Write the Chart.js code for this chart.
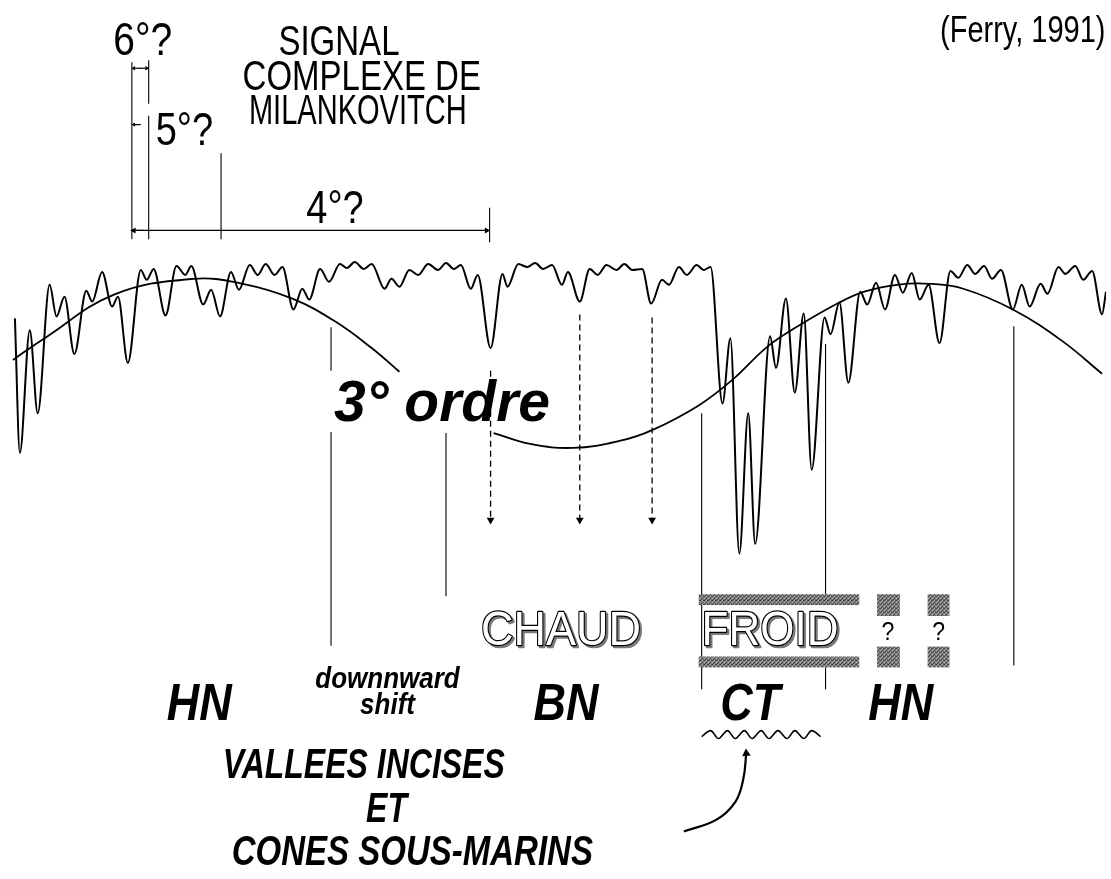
<!DOCTYPE html>
<html>
<head>
<meta charset="utf-8">
<script src="https://cdn.jsdelivr.net/npm/chart.js@4.4.1/dist/chart.umd.min.js"></script>
<style>
  body { margin: 0; background: #fff; }
  #graph { display: block; }
</style>
</head>
<body>
<canvas id="graph" width="1111" height="879"></canvas>
<script>
// DONNEES (unités arbitraires : temps en x, profondeur vers le bas en y)
const signal = [
  [10,317],[15,453],[25,329],[33,413],[45,283],[52,315],[60,295],[70,353],[82,289],[88,300],
  [98,270],[108,305],[114,295],[124,362],[137,268],[143,278],[150,267],[162,314],[173,264],[182,273],
  [188,264],[200,303],[208,288],[217,315],[228,270],[236,288],[247,263],[255,273],[263,262],[272,273],
  [280,265],[291,308],[300,287],[307,298],[318,267],[327,280],[338,262],[345,266],[353,260],[362,267],
  [370,262],[383,287],[390,277],[398,285],[408,268],[417,273],[427,262],[437,268],[445,261],[453,267],
  [460,263],[470,287],[477,273],[490,347],[502,272],[507,285],[518,262],[527,265],[535,261],[543,267],
  [552,263],[562,283],[568,270],[580,300],[590,267],[598,273],[607,263],[617,268],[625,262],[633,268],
  [643,267],[652,302],[663,278],[670,283],[680,265],[688,273],[698,263],[705,268],[712,265],[724,403],
  [732,337],[741,555],[750,413],[757,545],[772,335],[778,367],[788,297],[797,392],[806,312],[814,470],
  [827,316],[833,333],[842,301],[851,382],[863,290],[870,303],[879,281],[888,308],[898,273],[906,291],
  [915,271],[923,298],[932,283],[943,342],[954,269],[962,276],[971,263],[979,272],[988,264],[996,277],
  [1005,268],[1017,308],[1026,283],[1034,305],[1045,282],[1052,292],[1063,265],[1070,272],[1080,264],
  [1088,278],[1097,269],[1107,313],[1111,290]
];

// courbe du 3e ordre (deux morceaux)
const ordre3a = [[8,359],[40,337],[110,293],[190,277],[240,282],[290,297],[333,320],[370,347],[398,371]];
const ordre3b = [[493,433],[530,444],[573,448],[620,441],[653,430],[700,405],[733,380],[770,345],
  [800,325],[840,302],[867,290],[900,283],[933,282],[967,287],[1017,308],[1067,340],[1107,373]];

// limites verticales
const limitesX    = [329, 329, 445, 703, 828, 828, 1018];
const limitesHaut = [326, 432, 433, 413, 343, 670, 325];
const limitesBas  = [370, 648, 598, 692, 596, 692, 668];

// fleches pointillées (chutes du niveau)
const flechesX    = [490, 580, 653];
const flechesHaut = [370, 313, 316];
const flechesBas  = [521, 521, 521];

// cotes des ordres 4, 5, 6
const cotesX    = [128, 145, 145, 218, 489];
const cotesHaut = [58, 56, 112, 150, 205];
const cotesBas  = [237, 100, 237, 237, 240];

// surface d'érosion sous CT
const ondeX = [703,712,720,729,737,746,754,763,771,780,789,797,806,814,823];
const ondeY = [740,734,742,734,742,734,742,734,742,734,742,734,742,734,740];

// fleche courbe vers CT
const flecheCourbe = [[685,836],[718,824],[737,806],[745,783],[748,757]];

const pts = arr => arr.map(p => ({ x: p[0], y: p[1] }));

const trait = (data, opts) => Object.assign({
  data: data,
  showLine: true,
  borderColor: '#000',
  backgroundColor: '#000',
  borderWidth: 1.2,
  pointRadius: 0,
  fill: false,
  tension: 0
}, opts);

const pointeFin = (rot, r) => ({
  pointStyle: 'triangle',
  pointRotation: rot,
  pointRadius: c => c.dataIndex === c.dataset.data.length - 1 ? r : 0,
  pointBorderWidth: 0
});

const datasets = [];
datasets.push(trait(pts(signal), { borderWidth: 2, cubicInterpolationMode: 'monotone' }));
datasets.push(trait(pts(ordre3a), { borderWidth: 1.8, tension: 0.4 }));
datasets.push(trait(pts(ordre3b), { borderWidth: 1.8, tension: 0.4 }));

limitesX.forEach((lx, i) => {
  datasets.push(trait([{ x: lx, y: limitesHaut[i] }, { x: lx, y: limitesBas[i] }], { borderWidth: 1.1 }));
});

flechesX.forEach((fx, i) => {
  datasets.push(trait([{ x: fx, y: flechesHaut[i] }, { x: fx, y: flechesBas[i] }],
    Object.assign({ borderWidth: 1.3, borderDash: [6, 4] }, pointeFin(180, 4.5))));
});

cotesX.forEach((cx, i) => {
  datasets.push(trait([{ x: cx, y: cotesHaut[i] }, { x: cx, y: cotesBas[i] }], { borderWidth: 1.1 }));
});

// fleches horizontales des cotes
datasets.push(trait([{ x: 140, y: 228 }, { x: 130, y: 228 }], pointeFin(270, 3.5)));
datasets.push(trait([{ x: 130, y: 228 }, { x: 486, y: 228 }], Object.assign({ borderWidth: 1.3 }, pointeFin(90, 3.5))));
datasets.push(trait([{ x: 137, y: 64 }, { x: 130, y: 64 }], pointeFin(270, 2.5)));
datasets.push(trait([{ x: 136, y: 64 }, { x: 143, y: 64 }], pointeFin(90, 2.5)));
datasets.push(trait([{ x: 137, y: 121 }, { x: 130, y: 121 }], pointeFin(270, 2.5)));

datasets.push(trait(ondeX.map((v, i) => ({ x: v, y: ondeY[i] })), { borderWidth: 1.6, cubicInterpolationMode: 'monotone' }));
datasets.push(trait(pts(flecheCourbe), Object.assign({ borderWidth: 2.2, tension: 0.4 }, pointeFin(-4, 5))));

// motif gris des bandes
function motifGris(ctx) {
  const c = document.createElement('canvas');
  c.width = 4; c.height = 4;
  const g = c.getContext('2d');
  g.fillStyle = '#808080';
  g.fillRect(0, 0, 4, 4);
  g.fillStyle = '#404040';
  g.fillRect(0, 0, 1, 1); g.fillRect(2, 2, 1, 1); g.fillRect(3, 0, 1, 1); g.fillRect(1, 3, 1, 1);
  g.fillStyle = '#b5b5b5';
  g.fillRect(2, 0, 1, 1); g.fillRect(0, 2, 1, 1);
  return ctx.createPattern(c, 'repeat');
}

const FAM = '"Liberation Sans", Arial, Helvetica, sans-serif';

function texte(ctx, s, x, y, font, sy, sx) {
  ctx.save();
  ctx.translate(x, y);
  ctx.scale(sx || 1, sy || 1);
  ctx.font = font;
  ctx.textAlign = 'center';
  ctx.textBaseline = 'alphabetic';
  ctx.fillStyle = '#000';
  ctx.fillText(s, 0, 0);
  ctx.restore();
}

function texteCreux(ctx, s, x, y, taille) {
  ctx.save();
  ctx.translate(x, y);
  ctx.scale(1, 1.08);
  ctx.font = taille + 'px ' + FAM;
  ctx.textAlign = 'center';
  ctx.lineJoin = 'round';
  ctx.fillStyle = '#7a7a7a';
  ctx.strokeStyle = '#7a7a7a';
  ctx.lineWidth = 2.5;
  ctx.strokeText(s, 2, 2);
  ctx.fillText(s, 2, 2);
  ctx.strokeStyle = '#000';
  ctx.lineWidth = 2.2;
  ctx.strokeText(s, 0, 0);
  ctx.fillStyle = '#fff';
  ctx.fillText(s, 0, 0);
  ctx.restore();
}

const annotations = {
  id: 'annotations',
  afterDatasetsDraw(chart) {
    const ctx = chart.ctx;
    const X = v => chart.scales.x.getPixelForValue(v);
    const Y = v => chart.scales.y.getPixelForValue(v);
    const gris = motifGris(ctx);

    // bandes FROID
    ctx.save();
    ctx.fillStyle = gris;
    [[700, 596, 862, 607], [700, 659, 862, 670], [880, 596, 903, 618], [880, 649, 903, 670],
     [931, 596, 953, 618], [931, 649, 953, 670]].forEach(r => {
      ctx.fillRect(X(r[0]), Y(r[1]), X(r[2]) - X(r[0]), Y(r[3]) - Y(r[1]));
    });
    ctx.restore();

    texteCreux(ctx, 'CHAUD', X(561), Y(647), 45);
    texteCreux(ctx, 'FROID', X(772), Y(647), 44);
    texte(ctx, '?', X(891), Y(642), '23px ' + FAM, 1.1);
    texte(ctx, '?', X(942), Y(642), '23px ' + FAM, 1.1);

    // titres
    texte(ctx, '6°?', X(139), Y(51), '39px ' + FAM, 1.2);
    texte(ctx, '5°?', X(181), Y(142), '38px ' + FAM, 1.2);
    texte(ctx, '4°?', X(333), Y(221), '38px ' + FAM, 1.2);
    texte(ctx, 'SIGNAL', X(337), Y(51), '33px ' + FAM, 1.3);
    texte(ctx, 'COMPLEXE DE', X(360), Y(86), '33px ' + FAM, 1.3);
    texte(ctx, 'MILANKOVITCH', X(356), Y(120), '33px ' + FAM, 1.3, 0.88);
    texte(ctx, '(Ferry, 1991)', X(1027), Y(37), '29px ' + FAM, 1.3);

    texte(ctx, '3° ordre', X(441), Y(421), 'italic bold 57px ' + FAM, 1.0);

    texte(ctx, 'downnward', X(386), Y(691), 'italic bold 26px ' + FAM, 1.1);
    texte(ctx, 'shift', X(386), Y(717), 'italic bold 26px ' + FAM, 1.1);
    texte(ctx, 'HN', X(196), Y(723), 'italic bold 45px ' + FAM, 1.15);
    texte(ctx, 'BN', X(566), Y(723), 'italic bold 45px ' + FAM, 1.15);
    texte(ctx, 'CT', X(752), Y(723), 'italic bold 45px ' + FAM, 1.15);
    texte(ctx, 'HN', X(904), Y(723), 'italic bold 45px ' + FAM, 1.15);

    texte(ctx, 'VALLEES INCISES', X(362), Y(782), 'italic bold 32px ' + FAM, 1.3);
    texte(ctx, 'ET', X(385), Y(826), 'italic bold 32px ' + FAM, 1.3);
    texte(ctx, 'CONES SOUS-MARINS', X(411), Y(870), 'italic bold 33px ' + FAM, 1.3);
  }
};

const ctx = document.getElementById('graph').getContext('2d');
new Chart(ctx, {
  type: 'scatter',
  data: { datasets: datasets },
  options: {
    responsive: false,
    animation: false,
    devicePixelRatio: 1,
    layout: { padding: 0 },
    plugins: { legend: { display: false }, tooltip: { enabled: false } },
    scales: {
      x: { type: 'linear', min: 0, max: 1111, display: false },
      y: { type: 'linear', min: 0, max: 879, reverse: true, display: false }
    }
  },
  plugins: [annotations]
});
</script>
</body>
</html>
